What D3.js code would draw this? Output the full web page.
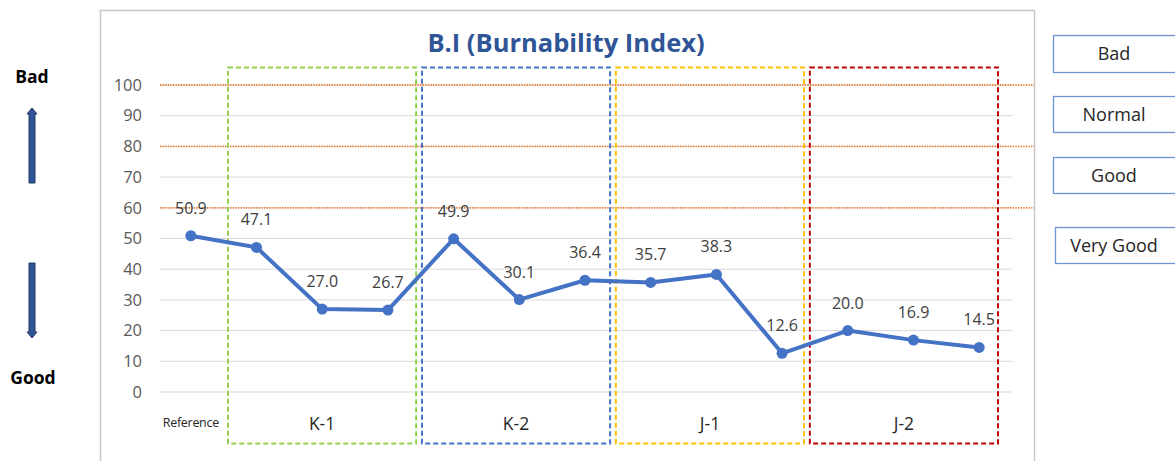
<!DOCTYPE html>
<html>
<head>
<meta charset="utf-8">
<script src="https://cdn.jsdelivr.net/npm/d3@7"></script>
<style>
  body { margin: 0; background: #fff; }
  svg { display: block; font-family: "Open Sans", "Noto Sans", sans-serif; }
</style>
</head>
<body>
<div id="chart"></div>
<script>
// chart data
const categories = ["Reference", "K-1 a", "K-1 b", "K-1 c", "K-2 a", "K-2 b", "K-2 c",
  "J-1 a", "J-1 b", "J-1 c", "J-2 a", "J-2 b", "J-2 c"];
const biValues = [50.9, 47.1, 27.0, 26.7, 49.9, 30.1, 36.4, 35.7, 38.3, 12.6, 20.0, 16.9, 14.5];
const groupNames = ["K-1", "K-2", "J-1", "J-2"];
const groupColors = ["#92D050", "#4472C4", "#FFC000", "#C00000"];
const yTicks = [0, 10, 20, 30, 40, 50, 60, 70, 80, 90, 100];
const limitLines = [60, 80, 100];
const gradeLabels = ["Bad", "Normal", "Good", "Very Good"];

const width = 1175, height = 461;

let svg = d3.select("#chart")
  .append("svg")
  .attr("width", width)
  .attr("height", height);

// chart frame
svg.append("rect")
  .attr("x", 100.5).attr("y", 10.5)
  .attr("width", 934).attr("height", 470)
  .attr("fill", "none")
  .attr("stroke", "#C8C8C8")
  .attr("stroke-width", 1.5);

let x = d3.scalePoint().domain(categories).range([158, 1012]).padding(0.5);
let y = d3.scaleLinear().domain([0, 100]).range([392, 85]);

// the dashed boxes are an overlay, spaced a bit tighter than the points
let xGroup = d3.scaleBand().domain(groupNames).range([228, 998])
  .paddingInner(0.03).paddingOuter(0);

// gridlines
svg.append("g")
  .selectAll("line")
  .data(yTicks)
  .enter()
  .append("line")
  .attr("x1", 160).attr("x2", 1012)
  .attr("y1", d => y(d)).attr("y2", d => y(d))
  .attr("stroke", "#D9D9D9")
  .attr("stroke-width", 1);

// y axis labels
let yAxis = svg.append("g")
  .attr("transform", "translate(150,0)")
  .call(d3.axisLeft(y).tickValues(yTicks).tickSize(0).tickPadding(8));
yAxis.select(".domain").remove();
yAxis.selectAll("text")
  .attr("font-family", "'Open Sans', sans-serif")
  .attr("font-size", 16.5)
  .attr("fill", "#595959");

// orange limit lines
svg.append("g")
  .selectAll("line")
  .data(limitLines)
  .enter()
  .append("line")
  .attr("x1", 160).attr("x2", 1034)
  .attr("y1", d => y(d)).attr("y2", d => y(d))
  .attr("stroke", "#ED7D31")
  .attr("stroke-width", 1.8)
  .attr("stroke-dasharray", "1.3,1.3");

// dashed group boxes
svg.append("g")
  .selectAll("rect")
  .data(groupNames)
  .enter()
  .append("rect")
  .attr("x", d => xGroup(d)).attr("y", 67.5)
  .attr("width", xGroup.bandwidth()).attr("height", 376)
  .attr("fill", "none")
  .attr("stroke", (d, i) => groupColors[i])
  .attr("stroke-width", 2)
  .attr("stroke-dasharray", "5,3");

svg.append("g")
  .selectAll("text")
  .data(groupNames)
  .enter()
  .append("text")
  .attr("x", d => xGroup(d) + xGroup.bandwidth() / 2)
  .attr("y", 430)
  .attr("text-anchor", "middle")
  .attr("font-size", 17.5)
  .attr("fill", "#262626")
  .text(d => d);

svg.append("text")
  .attr("x", x(categories[0]))
  .attr("y", 427)
  .attr("text-anchor", "middle")
  .attr("font-size", 12.5)
  .attr("fill", "#262626")
  .attr("letter-spacing", "-0.3")
  .text(categories[0]);

// the B.I line
let line = d3.line()
  .x((d, i) => x(categories[i]))
  .y(d => y(d));

svg.append("path")
  .datum(biValues)
  .attr("d", line)
  .attr("fill", "none")
  .attr("stroke", "#4472C4")
  .attr("stroke-width", 4)
  .attr("stroke-linejoin", "round");

svg.append("g")
  .selectAll("circle")
  .data(biValues)
  .enter()
  .append("circle")
  .attr("cx", (d, i) => x(categories[i]))
  .attr("cy", d => y(d))
  .attr("r", 5.5)
  .attr("fill", "#4472C4");

// value labels
svg.append("g")
  .selectAll("text")
  .data(biValues)
  .enter()
  .append("text")
  .attr("x", (d, i) => x(categories[i]))
  .attr("y", d => y(d) - 22)
  .attr("text-anchor", "middle")
  .attr("font-size", 16)
  .attr("fill", "#404040")
  .text(d => d.toFixed(1));

// title
svg.append("text")
  .attr("x", 566)
  .attr("y", 52)
  .attr("text-anchor", "middle")
  .attr("font-size", 25.5)
  .attr("font-weight", "bold")
  .attr("fill", "#2F5597")
  .text("B.I (Burnability Index)");

// left side: Bad / Good with arrows
svg.append("text")
  .attr("x", 32).attr("y", 83)
  .attr("text-anchor", "middle")
  .attr("font-size", 17.5).attr("font-weight", "bold")
  .attr("fill", "#000")
  .text("Bad");

svg.append("text")
  .attr("x", 33).attr("y", 384)
  .attr("text-anchor", "middle")
  .attr("font-size", 17.5).attr("font-weight", "bold")
  .attr("fill", "#000")
  .text("Good");

function arrow(xc, yFrom, yTo) {
  // shaft + small head pointing toward yTo
  let dir = yTo < yFrom ? -1 : 1;
  let headStart = yTo - dir * 6;
  let p = d3.path();
  p.moveTo(xc - 3, yFrom);
  p.lineTo(xc - 3, headStart);
  p.lineTo(xc - 5, headStart);
  p.lineTo(xc, yTo);
  p.lineTo(xc + 5, headStart);
  p.lineTo(xc + 3, headStart);
  p.lineTo(xc + 3, yFrom);
  p.closePath();
  svg.append("path")
    .attr("d", p.toString())
    .attr("fill", "#2F5597")
    .attr("stroke", "#1F3864")
    .attr("stroke-width", 1);
}
arrow(32, 183, 108);
arrow(32, 263, 338);

// right side grade boxes
const gradeBoxes = [
  { top: 35, bottom: 72, left: 1053.5 },
  { top: 96, bottom: 132, left: 1053.5 },
  { top: 157, bottom: 193, left: 1053.5 },
  { top: 227, bottom: 263, left: 1055.5 }
];

let grade = svg.append("g")
  .selectAll("g")
  .data(gradeLabels)
  .enter()
  .append("g");

grade.append("rect")
  .attr("x", (d, i) => gradeBoxes[i].left)
  .attr("y", (d, i) => gradeBoxes[i].top + 0.5)
  .attr("width", 125)
  .attr("height", (d, i) => gradeBoxes[i].bottom - gradeBoxes[i].top)
  .attr("fill", "#fff")
  .attr("stroke", "#6F93D8")
  .attr("stroke-width", 1.3);

grade.append("text")
  .attr("x", 1114)
  .attr("y", (d, i) => (gradeBoxes[i].top + gradeBoxes[i].bottom) / 2 + 6.5)
  .attr("text-anchor", "middle")
  .attr("font-size", 18)
  .attr("fill", "#262626")
  .text(d => d);
</script>
</body>
</html>
